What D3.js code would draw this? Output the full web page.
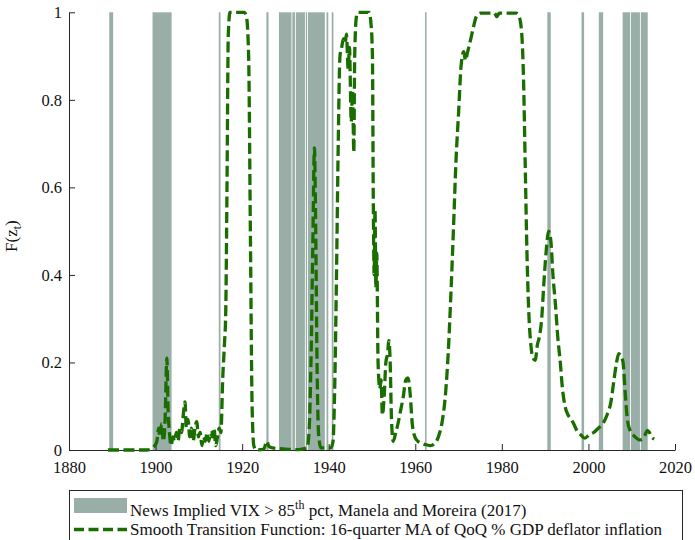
<!DOCTYPE html>
<html>
<head>
<meta charset="utf-8">
<script src="https://cdn.jsdelivr.net/npm/d3@7"></script>
<style>
  body { margin: 0; background: #fff; }
  text { font-family: "Liberation Serif", "Times New Roman", serif; }
</style>
</head>
<body>
<svg id="chart" width="695" height="540"></svg>
<script>
// High-uncertainty episodes (news-implied VIX above its 85th percentile), in years
const bandStarts = [1889.3, 1899.3, 1914.6, 1925.6, 1928.5, 1931.6, 1932.4, 1934.7, 1935.2, 1939.5, 1940.7,
                    1962.25, 1990.5, 1998.4, 2002.4, 2007.9, 2009.8, 2012.1];
const bandEnds   = [1890.2, 1903.7, 1915.0, 1926.1, 1931.4, 1932.2, 1934.5, 1935.0, 1939.1, 1939.9, 1941.1,
                    1962.6, 1991.3, 1999.0, 2003.4, 2009.6, 2011.9, 2013.7];

// Smooth transition function F(z_t)
const lineYears = [
  1889.0, 1892.0, 1895.0, 1898.0, 1899.0, 1899.8, 1900.3, 1900.7, 1901.0, 1901.4, 1901.8, 1902.2, 1902.6, 1902.9,
  1903.2, 1903.6, 1904.0, 1904.4, 1904.8, 1905.2, 1905.6, 1906.0, 1906.4, 1906.8, 1907.1, 1907.5, 1907.9, 1908.3,
  1908.7, 1909.1, 1909.5, 1909.9, 1910.3, 1910.7, 1911.1, 1911.5, 1911.9, 1912.3, 1912.7, 1913.1, 1913.5, 1913.9,
  1914.3, 1914.7, 1915.1, 1915.5, 1915.9, 1916.2, 1916.5, 1916.8, 1917.2, 1920.5, 1921.0, 1921.5, 1921.9, 1922.3,
  1922.7, 1923.2, 1925.0, 1925.7, 1926.2, 1927.0, 1930.0, 1933.0, 1935.0, 1935.5, 1935.9, 1936.3, 1936.7, 1937.0,
  1937.3, 1937.7, 1938.2, 1940.5, 1941.0, 1941.4, 1941.8, 1942.2, 1942.6, 1943.0, 1943.4, 1943.8, 1944.1, 1944.5,
  1944.8, 1945.2, 1945.5, 1945.8, 1946.0, 1946.4, 1946.8, 1949.3, 1949.8, 1950.1, 1950.3, 1950.5, 1950.7, 1950.9,
  1951.1, 1951.4, 1951.8, 1952.1, 1952.4, 1952.8, 1953.2, 1953.6, 1953.9, 1954.2, 1954.5, 1954.9, 1955.5, 1956.0,
  1956.6, 1957.2, 1957.8, 1958.3, 1958.8, 1959.3, 1959.9, 1960.6, 1961.5, 1962.5, 1963.5, 1964.5, 1965.5, 1966.3,
  1967.0, 1967.6, 1968.2, 1968.8, 1969.4, 1970.0, 1970.6, 1971.2, 1971.6, 1972.1, 1972.6, 1973.3, 1974.1, 1975.0,
  1978.3, 1978.8, 1979.4, 1983.3, 1984.0, 1984.6, 1985.0, 1985.4, 1985.8, 1986.2, 1986.7, 1987.2, 1987.7, 1988.2,
  1988.7, 1989.2, 1989.7, 1990.2, 1990.8, 1991.3, 1991.8, 1992.4, 1992.9, 1993.5, 1994.0, 1994.6, 1995.3, 1996.0,
  1996.6, 1997.3, 1998.2, 1999.2, 2000.2, 2001.2, 2002.3, 2003.3, 2004.3, 2005.2, 2005.9, 2006.5, 2007.0, 2007.5,
  2008.0, 2008.5, 2009.0, 2009.6, 2010.3, 2011.0, 2011.8, 2012.5, 2013.1, 2013.6, 2014.1, 2014.6, 2015.2
];
const lineValues = [
  0.000, 0.000, 0.000, 0.000, 0.003, 0.010, 0.020, 0.050, 0.030, 0.060, 0.020, 0.070, 0.210, 0.090,
  0.040, 0.010, 0.030, 0.020, 0.040, 0.020, 0.050, 0.040, 0.080, 0.110, 0.050, 0.070, 0.030, 0.050,
  0.020, 0.050, 0.065, 0.030, 0.040, 0.010, 0.030, 0.020, 0.040, 0.020, 0.040, 0.030, 0.050, 0.010,
  0.030, 0.050, 0.040, 0.160, 0.240, 0.310, 0.600, 0.950, 1.000, 1.000, 0.990, 0.900, 0.500, 0.100,
  0.010, 0.000, 0.002, 0.020, 0.008, 0.005, 0.002, 0.001, 0.005, 0.050, 0.200, 0.450, 0.690, 0.500,
  0.200, 0.030, 0.005, 0.005, 0.020, 0.150, 0.400, 0.700, 0.900, 0.920, 0.940, 0.930, 0.950, 0.870,
  0.920, 0.750, 0.820, 0.680, 0.900, 0.990, 1.000, 1.000, 0.970, 0.900, 0.570, 0.400, 0.550, 0.370,
  0.450, 0.200, 0.140, 0.160, 0.080, 0.120, 0.200, 0.220, 0.250, 0.200, 0.070, 0.020, 0.040, 0.060,
  0.090, 0.120, 0.160, 0.165, 0.130, 0.060, 0.030, 0.020, 0.015, 0.012, 0.010, 0.015, 0.035, 0.070,
  0.130, 0.220, 0.350, 0.500, 0.660, 0.770, 0.880, 0.910, 0.890, 0.910, 0.930, 0.960, 0.990, 0.998,
  0.998, 0.990, 0.998, 0.998, 0.990, 0.950, 0.850, 0.650, 0.450, 0.320, 0.240, 0.210, 0.205, 0.240,
  0.260, 0.300, 0.380, 0.450, 0.500, 0.480, 0.400, 0.330, 0.260, 0.200, 0.140, 0.100, 0.080, 0.070,
  0.060, 0.045, 0.035, 0.027, 0.035, 0.040, 0.050, 0.060, 0.080, 0.110, 0.160, 0.200, 0.220, 0.215,
  0.200, 0.130, 0.070, 0.045, 0.035, 0.028, 0.023, 0.025, 0.035, 0.045, 0.040, 0.030, 0.025
];

const xTicks = [1880, 1900, 1920, 1940, 1960, 1980, 2000, 2020];
const yTicks = [0, 0.2, 0.4, 0.6, 0.8, 1];
const yTickLabels = ["0", "0.2", "0.4", "0.6", "0.8", "1"];

const bandColor = "#9aaea8";
const lineColor = "#1a6e00";
const axisColor = "#262626";

const svg = d3.select("#chart");
const margin = { left: 69, right: 20, top: 12.3, bottom: 90 };
const W = 695, H = 540;

const x = d3.scaleLinear().domain([1880, 2020]).range([margin.left, W - margin.right]);
const y = d3.scaleLinear().domain([0, 1]).range([H - margin.bottom, margin.top]);

svg.append("rect").attr("width", W).attr("height", H).attr("fill", "#fff");

// shaded episodes
const bands = bandStarts.map((s, i) => ({ s, e: bandEnds[i] }));
svg.append("g").selectAll("rect").data(bands).join("rect")
  .attr("x", d => x(d.s))
  .attr("width", d => x(d.e) - x(d.s))
  .attr("y", y(1))
  .attr("height", y(0) - y(1))
  .attr("fill", bandColor);

// axes with inward ticks
const xAxis = svg.append("g")
  .attr("transform", `translate(0,${y(0)})`)
  .call(d3.axisBottom(x).tickValues(xTicks).tickFormat(d3.format("d"))
    .tickSize(-6).tickSizeOuter(0).tickPadding(11));
const yAxis = svg.append("g")
  .attr("transform", `translate(${x(1880)},0)`)
  .call(d3.axisLeft(y).tickValues(yTicks).tickFormat((d, i) => yTickLabels[i])
    .tickSize(-6).tickSizeOuter(0).tickPadding(7));

[xAxis, yAxis].forEach(g => {
  g.select(".domain").attr("stroke", axisColor).attr("stroke-width", 1);
  g.selectAll(".tick line").attr("stroke", axisColor).attr("stroke-width", 1);
  g.selectAll(".tick text").attr("fill", "#111").attr("font-size", 16.5)
    .attr("font-family", "'Liberation Serif', 'Times New Roman', serif");
});

// transition function line
const pts = lineYears.map((yr, i) => [yr, lineValues[i]]);
const line = d3.line().x(d => x(d[0])).y(d => y(d[1])).curve(d3.curveMonotoneX);
svg.append("path")
  .datum(pts)
  .attr("d", line)
  .attr("fill", "none")
  .attr("stroke", lineColor)
  .attr("stroke-width", 3.3)
  .attr("stroke-dasharray", "11,4.5");

// y-axis title F(z_t)
const yl = svg.append("text")
  .attr("transform", `translate(17,${(y(0) + y(1)) / 2 + 5}) rotate(-90)`)
  .attr("text-anchor", "middle")
  .attr("font-size", 17)
  .attr("fill", "#111");
yl.append("tspan").text("F(z");
yl.append("tspan").attr("font-size", 11.5).attr("dy", 4).text("t");
yl.append("tspan").attr("dy", -4).text(")");

// legend
const lg = svg.append("g");
lg.append("rect")
  .attr("x", 69.5).attr("y", 490.5)
  .attr("width", 613).attr("height", 60)
  .attr("fill", "#fff").attr("stroke", axisColor).attr("stroke-width", 1);
lg.append("rect")
  .attr("x", 74).attr("y", 498).attr("width", 53).attr("height", 15)
  .attr("fill", bandColor);
lg.append("line")
  .attr("x1", 74).attr("x2", 127).attr("y1", 529.5).attr("y2", 529.5)
  .attr("stroke", lineColor).attr("stroke-width", 3.3).attr("stroke-dasharray", "10,4.5");
const t1 = lg.append("text").attr("x", 130).attr("y", 515.5).attr("font-size", 17).attr("fill", "#111");
t1.append("tspan").text("News Implied VIX > 85");
t1.append("tspan").attr("font-size", 12).attr("dy", -7).text("th");
t1.append("tspan").attr("dy", 7).text(" pct, Manela and Moreira (2017)");
lg.append("text").attr("x", 130).attr("y", 535).attr("font-size", 17).attr("fill", "#111")
  .text("Smooth Transition Function: 16-quarter MA of QoQ % GDP deflator inflation");
</script>
</body>
</html>
